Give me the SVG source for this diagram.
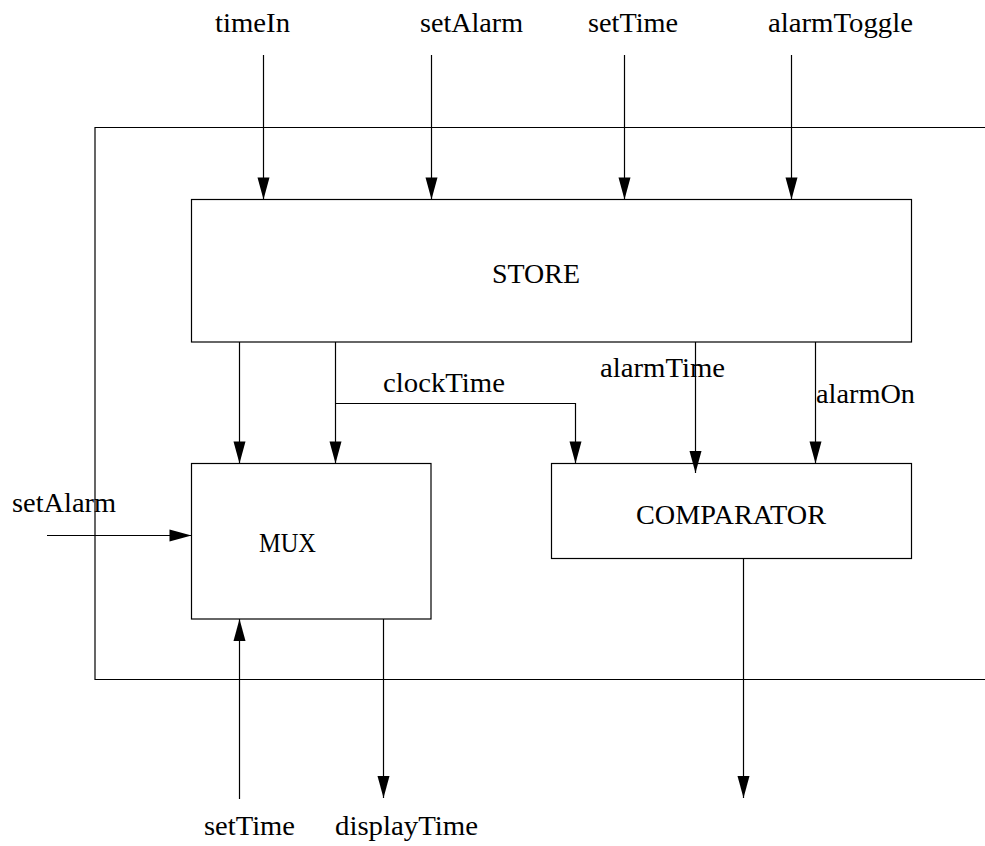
<svg xmlns="http://www.w3.org/2000/svg" width="985" height="846" viewBox="0 0 985 846">
  <style>
    .box { fill: none; stroke: #000; stroke-width: 1.2; }
    .wire { fill: none; stroke: #000; stroke-width: 1.2; marker-end: url(#head); }
    .plain { fill: none; stroke: #000; stroke-width: 1.2; }
    text { font-family: "Liberation Serif", "Times New Roman", serif; font-size: 27px; fill: #000; }
  </style>
  <defs>
    <marker id="head" markerUnits="userSpaceOnUse" markerWidth="22" markerHeight="12" refX="22" refY="6" orient="auto" overflow="visible">
      <path d="M0,0 L22,6 L0,12 Z" fill="#000"/>
    </marker>
  </defs>
  <rect width="985" height="846" fill="#fff"/>

  <!-- system boundary (open on the right) -->
  <path id="boundary" class="plain" d="M985,127.5 H95 V679.5 H985"/>

  <g id="store">
    <rect class="box" x="191.5" y="199.5" width="720" height="142.5"/>
    <text x="492" y="283" textLength="88" lengthAdjust="spacingAndGlyphs">STORE</text>
  </g>
  <g id="mux">
    <rect class="box" x="191.5" y="463.5" width="239.5" height="155.5"/>
    <text x="259" y="552" textLength="57" lengthAdjust="spacingAndGlyphs">MUX</text>
  </g>
  <g id="comparator">
    <rect class="box" x="551.5" y="463.5" width="360" height="95"/>
    <text x="636" y="524" textLength="190" lengthAdjust="spacingAndGlyphs">COMPARATOR</text>
  </g>

  <g id="connectors">
    <!-- inputs to STORE -->
    <line class="wire" x1="263.5" y1="55" x2="263.5" y2="199.5"/>
    <line class="wire" x1="431.5" y1="55" x2="431.5" y2="199.5"/>
    <line class="wire" x1="624.5" y1="55" x2="624.5" y2="199.5"/>
    <line class="wire" x1="791.5" y1="55" x2="791.5" y2="199.5"/>
    <!-- STORE to MUX -->
    <line class="wire" x1="239.5" y1="342" x2="239.5" y2="463.5"/>
    <line class="wire" x1="335.5" y1="342" x2="335.5" y2="463.5"/>
    <!-- clockTime to COMPARATOR -->
    <path class="wire" d="M335.5,403.5 H575.5 V463.5"/>
    <!-- alarmTime, alarmOn -->
    <line class="wire" x1="695.5" y1="342" x2="695.5" y2="473"/>
    <line class="wire" x1="815.5" y1="342" x2="815.5" y2="463.5"/>
    <!-- setAlarm into MUX -->
    <line class="wire" x1="47" y1="535.5" x2="191.5" y2="535.5"/>
    <!-- setTime into MUX -->
    <line class="wire" x1="239.5" y1="799" x2="239.5" y2="619"/>
    <!-- displayTime out of MUX -->
    <line class="wire" x1="383.5" y1="619" x2="383.5" y2="798"/>
    <!-- COMPARATOR output -->
    <line class="wire" x1="743.5" y1="558.5" x2="743.5" y2="798"/>
  </g>

  <g id="labels">
    <text x="215" y="32" textLength="75" lengthAdjust="spacingAndGlyphs">timeIn</text>
    <text x="420" y="32" textLength="103" lengthAdjust="spacingAndGlyphs">setAlarm</text>
    <text x="588" y="32" textLength="90" lengthAdjust="spacingAndGlyphs">setTime</text>
    <text x="768" y="32" textLength="145" lengthAdjust="spacingAndGlyphs">alarmToggle</text>
    <text x="383" y="392" textLength="122" lengthAdjust="spacingAndGlyphs">clockTime</text>
    <text x="600" y="377" textLength="125" lengthAdjust="spacingAndGlyphs">alarmTime</text>
    <text x="816" y="403" textLength="99" lengthAdjust="spacingAndGlyphs">alarmOn</text>
    <text x="12" y="512" textLength="104" lengthAdjust="spacingAndGlyphs">setAlarm</text>
    <text x="204" y="835" textLength="91" lengthAdjust="spacingAndGlyphs">setTime</text>
    <text x="335" y="835" textLength="143" lengthAdjust="spacingAndGlyphs">displayTime</text>
  </g>
</svg>
